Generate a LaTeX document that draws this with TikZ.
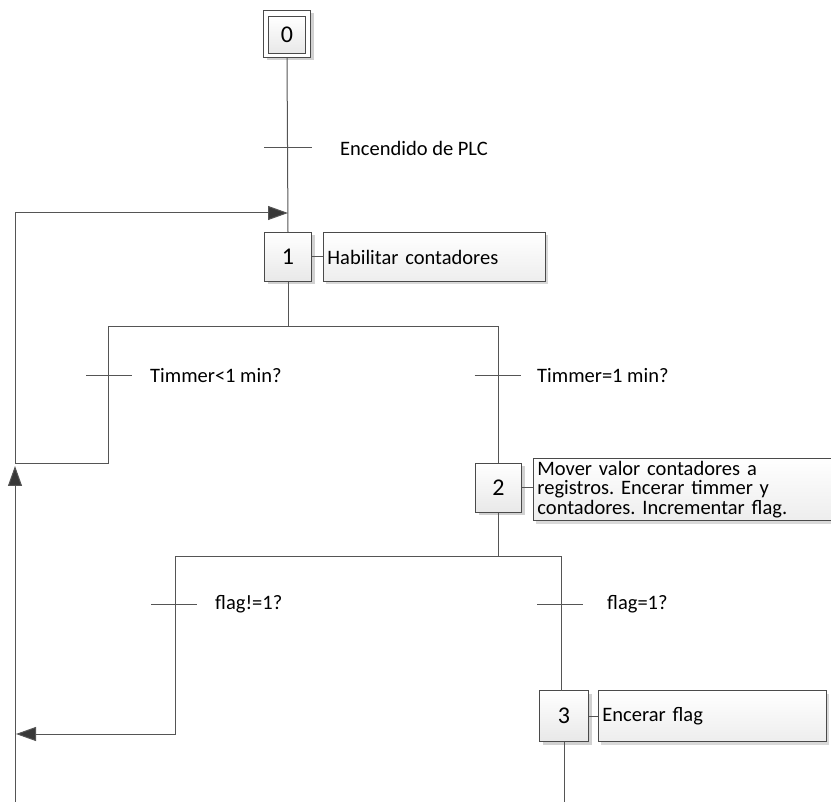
\documentclass[tikz,border=0pt]{standalone}
\usepackage{fontspec}
\setmainfont{Carlito}
\frenchspacing
\usetikzlibrary{arrows.meta,shadows}
\definecolor{ln}{HTML}{555555}
\definecolor{bd}{HTML}{4A4A4A}
\definecolor{ah}{HTML}{383838}
\tikzset{
  stepbox/.style={draw=bd,line width=0.9pt,top color=white,bottom color=black!9,
    minimum width=47pt,minimum height=49pt,inner sep=0pt,
    font=\fontsize{24}{26}\selectfont,
    drop shadow={shadow xshift=3pt,shadow yshift=-3pt,fill=black!18,opacity=1}},
  actbox/.style={draw=bd,line width=0.9pt,top color=white,bottom color=black!7,
    inner sep=3pt,anchor=west,align=left,font=\fontsize{20.5}{19.5}\selectfont,
    drop shadow={shadow xshift=3pt,shadow yshift=-3pt,fill=black!15,opacity=1}},
  flow/.style={draw=ln,line width=1pt},
  tick/.style={draw=ln,line width=1pt},
  lbl/.style={anchor=west,font=\fontsize{20.5}{24}\selectfont,inner sep=0pt},
  arr/.style={-{Triangle[length=20pt,width=14pt,fill=ah]},draw=ln,line width=1pt}
}
\begin{document}
\begin{tikzpicture}[x=1pt,y=-1pt]
\useasboundingbox (0,0) rectangle (831,802);
% step 0 (initial)
\node[stepbox,minimum width=47pt,minimum height=47pt,bottom color=white] (s0o) at (287,34) {};
\node[draw=bd,line width=0.9pt,top color=white,bottom color=black!9,minimum width=37pt,minimum height=37pt,inner sep=0pt,font=\fontsize{24}{26}\selectfont] (s0) at (287,35) {0};
% step 1
\node[stepbox] (s1) at (288,257) {1};
\node[actbox,minimum width=222pt,minimum height=49pt,text width=214pt] (a1) at (323,257) {Habilitar contadores};
% step 2
\node[stepbox,minimum width=46pt] (s2) at (498.5,488) {2};
\node[actbox,minimum width=298pt,minimum height=61pt,text width=290pt] (a2) at (533,489.5) {Mover valor contadores a\\registros. Encerar timmer y\\contadores. Incrementar flag.};
% step 3
\node[stepbox,minimum width=49pt,minimum height=51pt] (s3) at (564,716) {3};
\node[actbox,minimum width=228pt,minimum height=51pt,text width=220pt] (a3) at (598,716) {Encerar flag};
% action connectors
\draw[flow] (s1.east) -- (a1.west);
\draw[flow] (s2.east) -- (a2.west |- s2.east);
\draw[flow] (s3.east) -- (a3.west);
% coordinates
\coordinate (j1) at (288,327);
\coordinate (bl1) at (108,327);
\coordinate (br1) at (498.5,327);
\coordinate (bl1b) at (108,464);
\coordinate (loopB) at (15,464);
\coordinate (loopT) at (15,213);
\coordinate (in1) at (288,213);
\coordinate (bot) at (15,802);
\coordinate (j2) at (498.5,556);
\coordinate (bl2) at (175,556);
\coordinate (br2) at (561,556);
\coordinate (bl2b) at (175,734);
\coordinate (ret2) at (16,734);
\coordinate (s3out) at (564,802);
% main flow
\draw[flow] (s0o.south) -- (s1.north);
\draw[arr] (loopT) -- (in1);
\draw[flow] (loopB) -- (loopT);
\draw[arr] (bot) -- (15,466);
\draw[flow] (s1.south) -- (j1);
\draw[flow] (bl1) -- (br1);
\draw[flow] (bl1) -- (bl1b) -- (loopB);
\draw[flow] (br1) -- (s2.north);
\draw[flow] (s2.south) -- (j2);
\draw[flow] (bl2) -- (br2);
\draw[arr] (bl2) -- (bl2b) -- (ret2);
\draw[flow] (br2) -- (561,690.5);
\draw[flow] (s3.south) -- (s3out);
% transitions
\coordinate (t0) at (288,148);
\draw[tick] ([xshift=-24pt]t0) -- ([xshift=24pt]t0);
\node[lbl] (l0) at (340,148) {Encendido de PLC};
\coordinate (t1) at (108,376);
\draw[tick] ([xshift=-22pt]t1) -- ([xshift=24pt]t1);
\node[lbl] (l1) at (150,376) {Timmer<1 min?};
\coordinate (t2) at (498.5,376);
\draw[tick] ([xshift=-24pt]t2) -- ([xshift=22pt]t2);
\node[lbl] (l2) at (537,376) {Timmer=1 min?};
\coordinate (t3) at (175,604);
\draw[tick] ([xshift=-24pt]t3) -- ([xshift=22pt]t3);
\node[lbl] (l3) at (215,604) {flag!=1?};
\coordinate (t4) at (561,604);
\draw[tick] ([xshift=-24pt]t4) -- ([xshift=22pt]t4);
\node[lbl] (l4) at (607,604) {flag=1?};
\end{tikzpicture}
\end{document}
